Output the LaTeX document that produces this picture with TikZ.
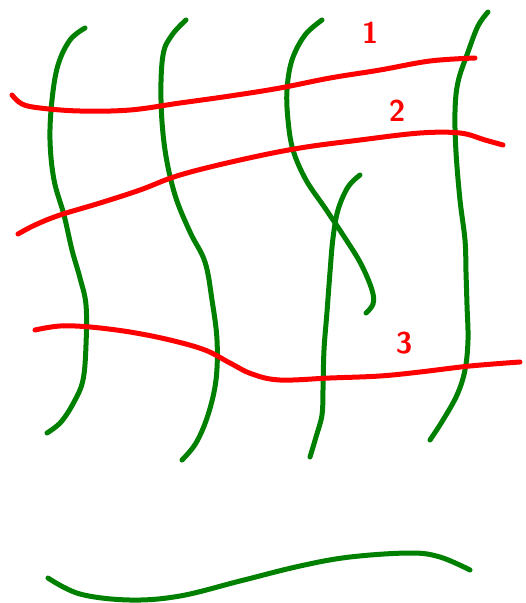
\documentclass[tikz,border=0pt]{standalone}
\usepackage{tikz}
\usetikzlibrary{positioning}
\definecolor{penred}{RGB}{255,0,0}
\definecolor{pengreen}{RGB}{0,128,0}

\begin{document}
\begin{tikzpicture}[x=1pt,y=-1pt,
  greenline/.style={pengreen,line width=5pt,line cap=round,line join=round},
  redline/.style={penred,line width=5pt,line cap=round,line join=round},
  lbl/.style={penred,font=\sffamily\bfseries\fontsize{30}{30}\selectfont,inner sep=0pt}]
\useasboundingbox (0,0) rectangle (526,603);
% vertical strands
\draw[greenline] plot[smooth,tension=0.6] coordinates {(85,28) (70,40) (58,65) (52,100) (50,140) (54,180) (64,215) (72,250) (80,278) (86,305) (86,345) (83,380) (74,402) (61,422) (47,433)};
\draw[greenline] plot[smooth,tension=0.6] coordinates {(186,20) (172,35) (163,55) (161,100) (165,150) (175,195) (190,232) (205,262) (212,300) (217,340) (216,380) (208,415) (196,443) (182,460)};
\draw[greenline] plot[smooth,tension=0.6] coordinates {(322,20) (305,35) (292,60) (287,90) (288,120) (293,150) (306,180) (325,208) (345,238) (361,264) (372,290) (373,304) (366,313)};
\draw[greenline] plot[smooth,tension=0.6] coordinates {(360,175) (348,187) (338,210) (333,238) (330,272) (327,312) (324,350) (323,390) (322,415) (316,437) (310,457)};
\draw[greenline] plot[smooth,tension=0.6] coordinates {(488,12) (478,26) (468,52) (458,82) (455,112) (456,152) (460,200) (465,240) (466,272) (467,305) (468,340) (465,370) (457,395) (443,420) (430,440)};
% bottom strand
\draw[greenline] plot[smooth,tension=0.6] coordinates {(48,578) (80,594) (130,600) (180,596) (240,581) (300,566) (350,557) (410,553) (440,557) (470,570)};
% horizontal strands
\draw[redline] plot[smooth,tension=0.6] coordinates {(12,95) (22,104) (40,108) (80,111) (130,110) (180,103) (230,96) (280,88) (330,78) (380,70) (430,61) (475,58)};
\draw[redline] plot[smooth,tension=0.6] coordinates {(18,234) (35,225) (60,215) (100,203) (140,190) (180,175) (240,160) (300,148) (360,140) (420,133) (460,133) (485,140) (503,145)};
\draw[redline] plot[smooth,tension=0.6] coordinates {(35,330) (60,326) (90,327) (130,332) (170,340) (205,350) (230,363) (252,374) (280,380) (330,378) (380,376) (420,372) (470,366) (520,362)};
% labels
\node[lbl] (one) at (370,33) {1};
\node[lbl] (two) at (397,111) {2};
\node[lbl] (three) at (404,343) {3};
\end{tikzpicture}
\end{document}
